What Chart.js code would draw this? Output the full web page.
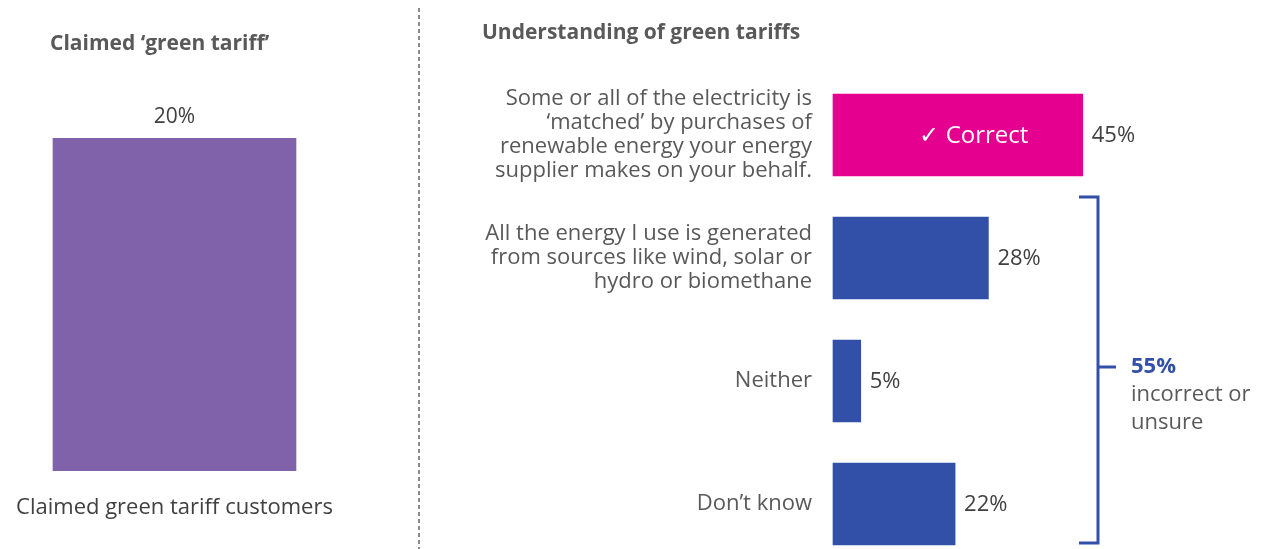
<!DOCTYPE html>
<html>
<head>
<meta charset="utf-8">
<script src="https://cdn.jsdelivr.net/npm/chart.js@4"></script>
<style>
  html, body { margin: 0; padding: 0; background: #fff; overflow: hidden; }
  #wrap { position: relative; width: 1261px; height: 549px; }
  #left { position: absolute; left: 0; top: 0; }
  #right { position: absolute; left: 419px; top: 0; }
</style>
</head>
<body>
<div id="wrap">
  <canvas id="left" width="421" height="549"></canvas>
  <canvas id="right" width="842" height="549"></canvas>
</div>
<script>
// claimed green tariff
const claimedCategories = ['Claimed green tariff customers'];
const claimedValues = [20];

// understanding of green tariffs
const understandingCategories = [
    ['Some or all of the electricity is', '‘matched’ by purchases of', 'renewable energy your energy', 'supplier makes on your behalf.'],
    ['All the energy I use is generated', 'from sources like wind, solar or', 'hydro or biomethane'],
    ['Neither'],
    ['Don’t know']
];
const understandingValues = [45, 28, 5, 22];
const correctIndex = 0;

const FONT = '"Open Sans", "Noto Sans", sans-serif';
const GREY = '#595959';
const DARK = '#404040';
const PURPLE = '#8062aa';
const PINK = '#e6008f';
const BLUE = '#3350a8';

Chart.defaults.font.family = FONT;
Chart.defaults.animation = false;

// value labels, titles and divider for the left chart
const leftExtras = {
    id: 'leftExtras',
    afterDatasetsDraw(chart) {
        const ctx = chart.ctx;
        ctx.save();
        ctx.font = 'bold 21px ' + FONT;
        ctx.fillStyle = GREY;
        ctx.textAlign = 'left';
        ctx.textBaseline = 'middle';
        ctx.fillText('Claimed ‘green tariff’', 50, 44);

        ctx.font = '21px ' + FONT;
        ctx.fillStyle = DARK;
        ctx.textAlign = 'center';
        chart.getDatasetMeta(0).data.forEach((bar, i) => {
            ctx.fillText(claimedValues[i] + '%', bar.x, bar.y - 21);
        });

        // dashed divider between the two panels
        ctx.strokeStyle = '#8c8c8c';
        ctx.lineWidth = 2;
        ctx.setLineDash([4, 3]);
        ctx.beginPath();
        ctx.moveTo(419, 8);
        ctx.lineTo(419, 549);
        ctx.stroke();
        ctx.restore();
    }
};

new Chart(document.getElementById('left'), {
    type: 'bar',
    data: {
        labels: claimedCategories,
        datasets: [{
            data: claimedValues,
            backgroundColor: PURPLE,
            barThickness: 243
        }]
    },
    options: {
        responsive: false,
        layout: { padding: { left: 8, right: 80, top: 138, bottom: 0 } },
        plugins: { legend: { display: false }, tooltip: { enabled: false } },
        scales: {
            x: {
                grid: { display: false, drawTicks: false },
                border: { display: false },
                ticks: { color: DARK, font: { size: 22 }, padding: 24, maxRotation: 0 },
                afterFit(scale) {
                    scale.height = 78;
                    scale.paddingLeft = 0;
                    scale.paddingRight = 0;
                }
            },
            y: { display: false, min: 0, max: 20 }
        }
    },
    plugins: [leftExtras]
});

// value labels, bracket and summary for the right chart
const rightExtras = {
    id: 'rightExtras',
    afterDatasetsDraw(chart) {
        const ctx = chart.ctx;
        const meta = chart.getDatasetMeta(0);
        ctx.save();
        ctx.font = 'bold 21px ' + FONT;
        ctx.fillStyle = GREY;
        ctx.textAlign = 'left';
        ctx.textBaseline = 'middle';
        ctx.fillText('Understanding of green tariffs', 63, 33);

        ctx.font = '22px ' + FONT;
        meta.data.forEach((bar, i) => {
            ctx.fillStyle = DARK;
            ctx.textAlign = 'left';
            ctx.fillText(understandingValues[i] + '%', bar.x + 9, bar.y + 1);
            if (i === correctIndex) {
                ctx.fillStyle = '#fff';
                ctx.textAlign = 'center';
                ctx.font = '24px ' + FONT;
                ctx.fillText('✓ Correct', (bar.base + bar.x) / 2 + 16, bar.y + 1);
                ctx.font = '22px ' + FONT;
            }
        });

        // bracket around the incorrect / unsure answers
        const others = meta.data.filter((b, i) => i !== correctIndex);
        const h = others[0].height;
        const top = others[0].y - h / 2 - 20;
        const bottom = others[others.length - 1].y + h / 2 - 2;
        const bx = 679;
        const mid = (top + bottom) / 2 - 3;
        ctx.strokeStyle = BLUE;
        ctx.lineWidth = 3;
        ctx.beginPath();
        ctx.moveTo(bx - 19, top);
        ctx.lineTo(bx, top);
        ctx.lineTo(bx, bottom);
        ctx.lineTo(bx - 19, bottom);
        ctx.moveTo(bx, mid);
        ctx.lineTo(bx + 18, mid);
        ctx.stroke();

        const share = understandingValues.reduce((s, v, i) => i === correctIndex ? s : s + v, 0);
        ctx.textAlign = 'left';
        ctx.fillStyle = BLUE;
        ctx.font = 'bold 22px ' + FONT;
        ctx.fillText(share + '%', 712, mid);
        ctx.fillStyle = GREY;
        ctx.font = '22px ' + FONT;
        ctx.fillText('incorrect or', 712, mid + 28);
        ctx.fillText('unsure', 712, mid + 56);
        ctx.restore();
    }
};

new Chart(document.getElementById('right'), {
    type: 'bar',
    data: {
        labels: understandingCategories,
        datasets: [{
            data: understandingValues,
            backgroundColor: c => c.dataIndex === correctIndex ? PINK : BLUE,
            barThickness: 82,
            clip: false
        }]
    },
    options: {
        indexAxis: 'y',
        responsive: false,
        layout: { padding: { left: 0, right: 95, top: 135, bottom: 45 } },
        plugins: { legend: { display: false }, tooltip: { enabled: false } },
        scales: {
            x: { display: false, min: 0, max: 60 },
            y: {
                offset: false,
                grid: { display: false, drawTicks: false },
                border: { display: false },
                ticks: { color: GREY, font: { size: 22, lineHeight: 24 / 22 }, padding: 21 },
                afterFit(scale) {
                    scale.width = 414;
                    scale.paddingTop = 0;
                    scale.paddingBottom = 0;
                }
            }
        }
    },
    plugins: [rightExtras]
});
</script>
</body>
</html>
